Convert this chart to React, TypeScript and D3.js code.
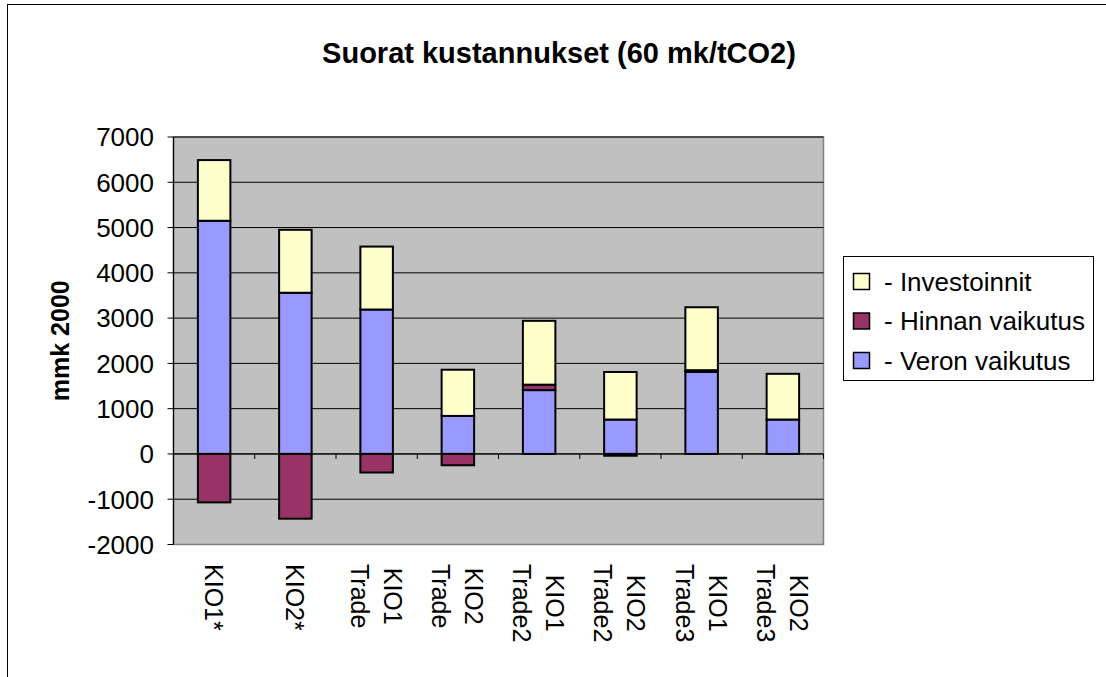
import React from "react";
import * as d3 from "d3";

const categories = ["KIO1*", "KIO2*", "KIO1 Trade", "KIO2 Trade", "KIO1 Trade2", "KIO2 Trade2", "KIO1 Trade3", "KIO2 Trade3"];
const veron = [5150, 3560, 3190, 840, 1410, 760, 1810, 760];
const hinnan = [-1070, -1430, -410, -250, 120, -40, 40, 0];
const investoinnit = [1340, 1390, 1390, 1020, 1410, 1050, 1390, 1010];
const yTicks = [-2000, -1000, 0, 1000, 2000, 3000, 4000, 5000, 6000, 7000];
const seriesNames = ["- Veron vaikutus", "- Hinnan vaikutus", "- Investoinnit"];
const seriesColors = ["#9999FF", "#993366", "#FFFFCC"];

const W = 1106, H = 677;
const L = 173.5, R = 823.5, T = 137, B = 544.5;
const FONT = "Arial, 'Liberation Sans', sans-serif";

function measure(text: string, size: number): number {
  const c = document.createElement("canvas").getContext("2d");
  if (!c) return text.length * size * 0.55;
  c.font = `${size}px 'Liberation Sans', Arial, sans-serif`;
  return c.measureText(text).width;
}

export default function App() {
  const x = d3.scaleBand<string>().domain(categories).range([L, R]).paddingInner(0.6).paddingOuter(0.3);
  const y = d3.scaleLinear().domain([-2000, 7000]).range([B, T]);

  const rows = categories.map((c, i) => ({ cat: c, v: veron[i], h: hinnan[i], inv: investoinnit[i] }));
  const stack = d3.stack<any>().keys(["v", "h", "inv"]).offset(d3.stackOffsetDiverging);
  const series = stack(rows);

  const step = x.step();
  const bw = x.bandwidth();
  const boundaries = categories.map((c) => (x(c) as number) + bw / 2 + step / 2);

  const labelFont = 25;
  const lineGap = 33;
  const labelTop = 564;

  return (
    <svg width={W} height={H} style={{ position: "absolute", left: 0, top: 0, background: "#fff" }} fontFamily={FONT}>
      <rect x={7.5} y={4.5} width={1300} height={900} fill="#fff" stroke="#000" strokeWidth={1} />
      <text x={559} y={63} textAnchor="middle" fontSize={29} fontWeight="bold">Suorat kustannukset (60 mk/tCO2)</text>

      {/* plot area */}
      <rect x={L} y={T} width={R - L} height={B - T} fill="#C0C0C0" stroke="#808080" strokeWidth={1.5} />
      {yTicks.map((t) => (
        <line key={"g" + t} x1={L} x2={R} y1={y(t)} y2={y(t)} stroke={t === -2000 ? "#808080" : "#000"} strokeWidth={1} />
      ))}

      {/* bars */}
      {series.map((s, si) =>
        s.map((d, i) => {
          const y0 = y(d[0]);
          const y1 = y(d[1]);
          const h = Math.abs(y0 - y1);
          if (h < 0.01) return null;
          return (
            <rect key={si + "-" + i} x={x(categories[i])} y={Math.min(y0, y1)} width={bw} height={h}
              fill={seriesColors[si]} stroke="#000" strokeWidth={2} />
          );
        })
      )}

      {/* axes */}
      <line x1={L} x2={L} y1={T} y2={B} stroke="#000" strokeWidth={1.2} />
      <line x1={L} x2={R} y1={y(0)} y2={y(0)} stroke="#000" strokeWidth={1} />
      {boundaries.map((bx, i) => (
        <line key={"ct" + i} x1={bx} x2={bx} y1={y(0)} y2={y(0) + 5} stroke="#000" strokeWidth={1} />
      ))}
      {yTicks.map((t) => (
        <g key={"t" + t}>
          <line x1={L - 6} x2={L} y1={y(t)} y2={y(t)} stroke="#000" strokeWidth={1} />
          <text x={154} y={y(t)} dy="0.36em" textAnchor="end" fontSize={26}>{t}</text>
        </g>
      ))}
      <text transform={`translate(69,${(T + B) / 2}) rotate(-90)`} textAnchor="middle" fontSize={25} fontWeight="bold">mmk 2000</text>

      {/* category labels */}
      {categories.map((c) => {
        const lines = c.split(" ");
        const cx = (x(c) as number) + bw / 2;
        const maxLen = Math.max(...lines.map((l) => measure(l, labelFont)));
        const along = labelTop + maxLen / 2;
        const n = lines.length;
        return (
          <g key={"cl" + c}>
            {lines.map((l, li) => {
              const base = cx + ((n - 1) / 2 - li) * lineGap - 9.5;
              return (
                <text key={li} transform={`translate(${base},${along}) rotate(90)`} textAnchor="middle" fontSize={labelFont}>{l}</text>
              );
            })}
          </g>
        );
      })}

      {/* legend */}
      <rect x={843.5} y={256.5} width={250} height={124} fill="#fff" stroke="#000" strokeWidth={1} />
      {[2, 1, 0].map((si, k) => {
        const cy = 281.5 + k * 39.5;
        return (
          <g key={"lg" + si}>
            <rect x={853.5} y={cy - 8} width={16} height={16} fill={seriesColors[si]} stroke="#000" strokeWidth={1.5} />
            <text x={884} y={cy + 9} fontSize={26}>{seriesNames[si]}</text>
          </g>
        );
      })}
    </svg>
  );
}
